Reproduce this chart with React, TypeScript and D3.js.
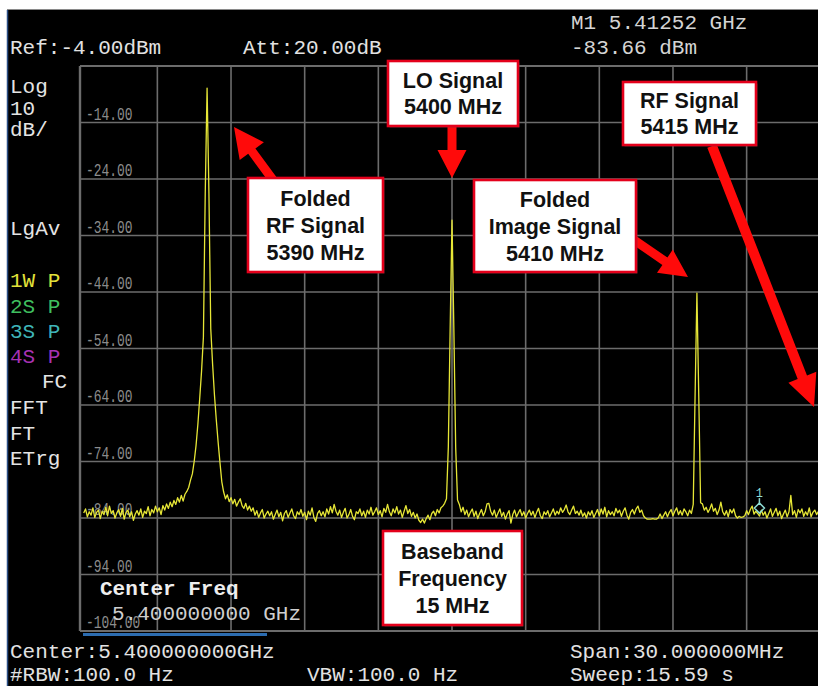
import React from "react";
import * as d3 from "d3";

// Sweep definition: 401 trace points across a 30 MHz span centred on 5.4 GHz
const START_MHZ = 5385;
const STOP_MHZ = 5415;
const STEP_MHZ = 0.075;

// Trace amplitude in dBm, one value per sweep point
const traceDbm = [
  -83.1, -82.4, -83.8, -82.9, -83.5, -82.2, -83.9, -83.0, -82.6, -84.1,
  -82.8, -83.4, -82.1, -83.6, -81.9, -83.2, -82.7, -84.0, -83.1, -82.5,
  -83.7, -82.3, -84.2, -83.0, -82.6, -83.8, -82.9, -84.4, -83.3, -82.7,
  -83.5, -82.4, -83.9, -82.8, -83.2, -82.0, -83.6, -82.5, -83.1, -81.9,
  -82.9, -82.2, -83.4, -81.8, -82.6, -81.5, -82.3, -81.2, -82.0, -80.9,
  -81.6, -80.4, -81.2, -80.0, -81.0, -79.8, -79.3, -78.6, -77.3, -76.2,
  -74.0, -71.2, -67.4, -62.8, -58.0, -52.0, -26.5, -7.9, -26.5, -50.5,
  -56.8, -62.2, -66.6, -70.6, -74.2, -77.6, -79.4, -80.6, -79.9, -81.1,
  -80.4, -81.5, -80.7, -81.9, -81.2, -80.6, -81.8, -82.3, -81.4, -82.6,
  -81.9, -82.8, -82.2, -83.5, -82.7, -83.9, -83.1, -82.5, -84.0, -83.3,
  -82.8, -83.6, -82.9, -84.2, -83.4, -82.6, -83.8, -83.0, -84.5, -83.2,
  -82.7, -83.9, -83.1, -82.4, -83.6, -84.1, -82.9, -83.4, -82.5, -83.7,
  -83.0, -84.3, -82.8, -83.5, -82.2, -83.9, -84.6, -83.2, -82.7, -83.6,
  -82.9, -83.8, -82.4, -83.3, -82.0, -83.1, -81.6, -82.8, -83.5, -82.6,
  -83.9, -83.0, -82.3, -84.0, -83.4, -82.5, -83.7, -84.3, -82.9, -83.2,
  -82.4, -83.6, -82.8, -83.9, -82.6, -83.3, -82.1, -83.5, -82.9, -82.2,
  -83.4, -82.7, -83.8, -82.3, -83.0, -81.6, -82.9, -83.6, -82.4, -83.1,
  -82.0, -83.3, -82.6, -83.9, -82.8, -81.8, -83.2, -82.5, -83.7, -83.0,
  -84.0, -83.3, -84.4, -84.8, -84.2, -84.9, -84.1, -83.5, -84.3, -83.2,
  -82.8, -83.6, -82.5, -83.1, -82.2, -81.9, -81.4, -80.6, -71.5, -50.4,
  -31.3, -50.4, -71.5, -80.8, -81.6, -82.9, -82.1, -83.4, -82.6, -83.8,
  -83.0, -82.4, -83.7, -82.8, -84.1, -83.2, -82.5, -83.6, -82.9, -81.5,
  -81.4, -82.8, -83.5, -82.6, -83.9, -83.1, -82.4, -83.7, -83.0, -84.2,
  -83.3, -82.7, -84.9, -83.4, -82.6, -83.8, -83.1, -82.5, -83.6, -82.9,
  -84.0, -83.2, -82.6, -83.5, -82.8, -83.9, -83.0, -82.3, -83.6, -84.1,
  -82.9, -83.4, -82.7, -83.8, -83.1, -82.4, -83.5, -82.8, -83.3, -82.2,
  -83.0, -82.5, -81.7, -82.9, -83.4, -82.6, -81.9, -83.2, -82.8, -83.5,
  -82.6, -83.7, -83.1, -84.0, -82.9, -83.5, -82.7, -83.9, -83.2, -82.5,
  -83.6, -82.4, -83.3, -82.1, -83.8, -82.7, -83.4, -82.9, -83.6, -82.3,
  -83.1, -82.6, -83.7, -82.8, -82.2, -83.5, -84.2, -83.0, -82.5, -83.3,
  -82.4, -81.9, -83.0, -82.6, -83.6, -84.0, -84.2, -84.2, -84.2, -84.1,
  -84.2, -84.2, -84.0, -83.3, -84.1, -83.5, -82.9, -83.8, -83.0, -82.5,
  -83.6, -82.8, -82.2, -83.4, -82.7, -83.5, -82.4, -82.9, -83.6, -82.6,
  -83.2, -81.6, -62.4, -44.2, -62.4, -81.3, -81.5, -82.6, -82.1, -83.0,
  -82.4, -81.5, -82.8, -82.3, -83.4, -82.6, -81.2, -82.9, -83.5, -82.7,
  -83.8, -82.5, -83.1, -82.4, -83.6, -84.0, -83.7, -83.9, -83.8, -83.6,
  -82.7, -83.4, -82.5, -81.9, -83.3, -82.8, -83.2, -83.66, -82.6, -83.5,
  -82.9, -84.0, -83.2, -82.4, -83.7, -83.0, -82.3, -83.6, -82.8, -84.1,
  -83.3, -82.6, -83.8, -82.9, -80.0, -83.4, -82.7, -83.9, -82.5, -83.1,
  -82.4, -83.7, -82.9, -83.5, -82.2, -83.8, -83.0, -82.6, -83.4, -82.8,
  -82.5,
];

// Amplitude axis
const REF_LEVEL = -4;
const BOTTOM_LEVEL = -104;
const levelTicks = [-14, -24, -34, -44, -54, -64, -74, -84, -94, -104];
const freqGridMHz = [5388, 5391, 5394, 5397, 5400, 5403, 5406, 5409, 5412, 5415];

// Marker 1
const markerMHz = [5412.52];
const markerDbm = [-83.66];

// Instrument status text
const headerLeft = ["Ref:-4.00dBm", "Att:20.00dB"];
const sideLabels = ["Log", "10", "dB/", "LgAv", "1W P", "2S P", "3S P", "4S P", "FC", "FFT", "FT", "ETrg"];
const footerLabels = ["Center:5.400000000GHz", "#RBW:100.0 Hz", "VBW:100.0 Hz", "Span:30.000000MHz", "Sweep:15.59 s"];
const activeFunction = ["Center Freq", "5.400000000 GHz"];

// Callout annotations
const calloutLines = [
  ["Folded", "RF Signal", "5390 MHz"],
  ["LO Signal", "5400 MHz"],
  ["RF Signal", "5415 MHz"],
  ["Folded", "Image Signal", "5410 MHz"],
  ["Baseband", "Frequency", "15 MHz"],
];

const W = 818;
const H = 686;
const PLOT_LEFT = 80;
const PLOT_TOP = 66;
const PLOT_BOTTOM = 631;
const PLOT_RIGHT = 822;

const x = d3.scaleLinear().domain([START_MHZ, STOP_MHZ]).range([83.7, 820.3]);
const y = d3.scaleLinear().domain([BOTTOM_LEVEL, REF_LEVEL]).range([PLOT_BOTTOM, PLOT_TOP]);

const MONO = "'Liberation Mono', 'DejaVu Sans Mono', monospace";
const SANS = "'Liberation Sans', Arial, sans-serif";

type Pt = [number, number];

function arrowPath(tail: Pt, tip: Pt, shaft: number, headW: number, headL: number): string {
  const dx = tip[0] - tail[0];
  const dy = tip[1] - tail[1];
  const len = Math.hypot(dx, dy);
  const ux = dx / len;
  const uy = dy / len;
  const nx = -uy;
  const ny = ux;
  const bx = tip[0] - ux * headL;
  const by = tip[1] - uy * headL;
  const p: Pt[] = [
    [tail[0] + nx * shaft / 2, tail[1] + ny * shaft / 2],
    [bx + nx * shaft / 2, by + ny * shaft / 2],
    [bx + nx * headW / 2, by + ny * headW / 2],
    tip,
    [bx - nx * headW / 2, by - ny * headW / 2],
    [bx - nx * shaft / 2, by - ny * shaft / 2],
    [tail[0] - nx * shaft / 2, tail[1] - ny * shaft / 2],
  ];
  return "M" + p.map((q) => q[0].toFixed(1) + "," + q[1].toFixed(1)).join("L") + "Z";
}

function Callout({ bx, by, bw, bh, lines }: { bx: number; by: number; bw: number; bh: number; lines: string[] }) {
  const lh = lines.length === 3 ? 27 : 26;
  const cy = by + bh / 2;
  const first = cy - ((lines.length - 1) * lh) / 2;
  return (
    <g>
      <rect x={bx + 1.5} y={by + 1.5} width={bw} height={bh} fill="#555" opacity={0.5} />
      <rect x={bx} y={by} width={bw} height={bh} fill="#fff" stroke="#e4001b" strokeWidth={2.6} />
      {lines.map((t, i) => (
        <text
          key={i}
          x={bx + bw / 2}
          y={first + i * lh + 7.5}
          textAnchor="middle"
          fontFamily={SANS}
          fontWeight="bold"
          fontSize={21.5}
          fill="#111"
        >
          {t}
        </text>
      ))}
    </g>
  );
}

export default function App() {
  const line = d3
    .line<number>()
    .x((_, i) => x(START_MHZ + i * STEP_MHZ))
    .y((d) => y(d));
  const tracePath = line(traceDbm) || "";

  const sideRows: { t: string; x: number; y: number; c: string }[] = [
    { t: sideLabels[0], x: 10, y: 93, c: "#e4e4e4" },
    { t: sideLabels[1], x: 10, y: 114.5, c: "#e4e4e4" },
    { t: sideLabels[2], x: 10, y: 136, c: "#e4e4e4" },
    { t: sideLabels[3], x: 10, y: 235, c: "#e4e4e4" },
    { t: sideLabels[4], x: 10, y: 287, c: "#e2e23a" },
    { t: sideLabels[5], x: 10, y: 313, c: "#3fbf5f" },
    { t: sideLabels[6], x: 10, y: 338, c: "#3fb5b8" },
    { t: sideLabels[7], x: 10, y: 363, c: "#a832b4" },
    { t: sideLabels[8], x: 42, y: 388, c: "#e4e4e4" },
    { t: sideLabels[9], x: 10, y: 414, c: "#e4e4e4" },
    { t: sideLabels[10], x: 10, y: 440, c: "#e4e4e4" },
    { t: sideLabels[11], x: 10, y: 465, c: "#e4e4e4" },
  ];

  const footerRows = [
    { t: footerLabels[0], x: 10, y: 658 },
    { t: footerLabels[1], x: 10, y: 681 },
    { t: footerLabels[2], x: 307, y: 681 },
    { t: footerLabels[3], x: 570, y: 658 },
    { t: footerLabels[4], x: 570, y: 681 },
  ];

  const mx = x(markerMHz[0]);
  const my = y(markerDbm[0]);
  const loX = x(5400);

  const boxes = [
    { bx: 248, by: 178, bw: 135, bh: 94 },
    { bx: 388, by: 61, bw: 130, bh: 65 },
    { bx: 623, by: 82, bw: 133, bh: 63 },
    { bx: 474, by: 180, bw: 162, bh: 92 },
    { bx: 383, by: 531, bw: 139, bh: 94 },
  ];

  const arrows = [
    arrowPath([273, 180], [234, 127], 9, 30, 30),
    arrowPath([loX, 127], [loX, 178], 9, 29, 28),
    arrowPath([712, 146], [814, 407], 10, 30, 32),
    arrowPath([634, 240], [688, 277], 9, 28, 28),
  ];

  return (
    <svg
      width={W}
      height={H}
      viewBox={`0 0 ${W} ${H}`}
      style={{ position: "fixed", left: 0, top: 0, display: "block" }}
    >
      <rect x={0} y={0} width={W} height={H} fill="#fff" />
      <rect x={7} y={9.5} width={W - 7} height={H - 9.5} fill="#000" />
      <line x1={7} x2={W} y1={9.5} y2={9.5} stroke="#8a8a8a" strokeWidth={1} />
      <line x1={7.5} x2={7.5} y1={10} y2={H} stroke="#2b4f86" strokeWidth={1.5} />

      {/* graticule */}
      <g stroke="#6c6c6c" strokeWidth={1.6}>
        {levelTicks.slice(0, -1).map((v) => (
          <line key={v} x1={PLOT_LEFT} x2={PLOT_RIGHT} y1={y(v)} y2={y(v)} />
        ))}
        {freqGridMHz.map((f) => (
          <line key={f} x1={x(f)} x2={x(f)} y1={PLOT_TOP} y2={PLOT_BOTTOM} />
        ))}
        <line x1={PLOT_LEFT} x2={PLOT_RIGHT} y1={PLOT_TOP} y2={PLOT_TOP} strokeWidth={2} />
        <line x1={PLOT_LEFT} x2={PLOT_RIGHT} y1={PLOT_BOTTOM} y2={PLOT_BOTTOM} strokeWidth={2} />
        <line x1={PLOT_LEFT} x2={PLOT_LEFT} y1={PLOT_TOP} y2={PLOT_BOTTOM} strokeWidth={2.4} />
      </g>

      {/* amplitude labels */}
      {levelTicks.map((v) => (
        <text
          key={v}
          transform={`translate(86,${y(v) - 3}) scale(0.68,1)`}
          fontFamily={MONO}
          fontSize={19}
          fill="#8c8c8c"
        >
          {v.toFixed(2)}
        </text>
      ))}

      {/* trace */}
      <path d={tracePath} fill="none" stroke="#e6e636" strokeWidth={1.3} strokeLinejoin="round" />

      {/* marker 1 */}
      <g stroke="#8fdcd4" strokeWidth={1.5} fill="none">
        <path d={`M${mx},${my - 13} L${mx + 5},${my - 8} L${mx},${my - 3} L${mx - 5},${my - 8} Z`} />
        <line x1={mx} x2={mx} y1={my - 13} y2={my - 18} />
      </g>
      <text x={mx} y={my - 19} textAnchor="middle" fontFamily={MONO} fontSize={12} fill="#8fdcd4">
        1
      </text>

      {/* header */}
      <g fontFamily={MONO} fontSize={21} fill="#e2e2e2">
        <text x={10} y={54}>{headerLeft[0]}</text>
        <text x={243} y={54}>{headerLeft[1]}</text>
        <text x={571} y={29} fill="#d4d4d4">{`M1 ${(markerMHz[0] / 1000).toFixed(5)} GHz`}</text>
        <text x={571} y={54} fill="#d4d4d4">{`${markerDbm[0].toFixed(2)} dBm`}</text>
      </g>

      {/* side status */}
      <g fontFamily={MONO} fontSize={21}>
        {sideRows.map((r) => (
          <text key={r.t} x={r.x} y={r.y} fill={r.c}>
            {r.t}
          </text>
        ))}
      </g>

      {/* active function readout */}
      <text x={100} y={595} fontFamily={MONO} fontSize={21} fontWeight="bold" fill="#eeeeee">
        {activeFunction[0]}
      </text>
      <text x={112} y={620} fontFamily={MONO} fontSize={21} fill="#cfcfcf">
        {activeFunction[1]}
      </text>
      <rect x={83} y={633} width={184} height={3} fill="#2c6cb0" />

      {/* footer */}
      <g fontFamily={MONO} fontSize={21} fill="#e2e2e2">
        {footerRows.map((r) => (
          <text key={r.t} x={r.x} y={r.y}>
            {r.t}
          </text>
        ))}
      </g>

      {/* annotations */}
      <g fill="#ff0a0a">
        {arrows.map((d, i) => (
          <path key={i} d={d} />
        ))}
      </g>
      {boxes.map((b, i) => (
        <Callout key={i} {...b} lines={calloutLines[i]} />
      ))}
    </svg>
  );
}
